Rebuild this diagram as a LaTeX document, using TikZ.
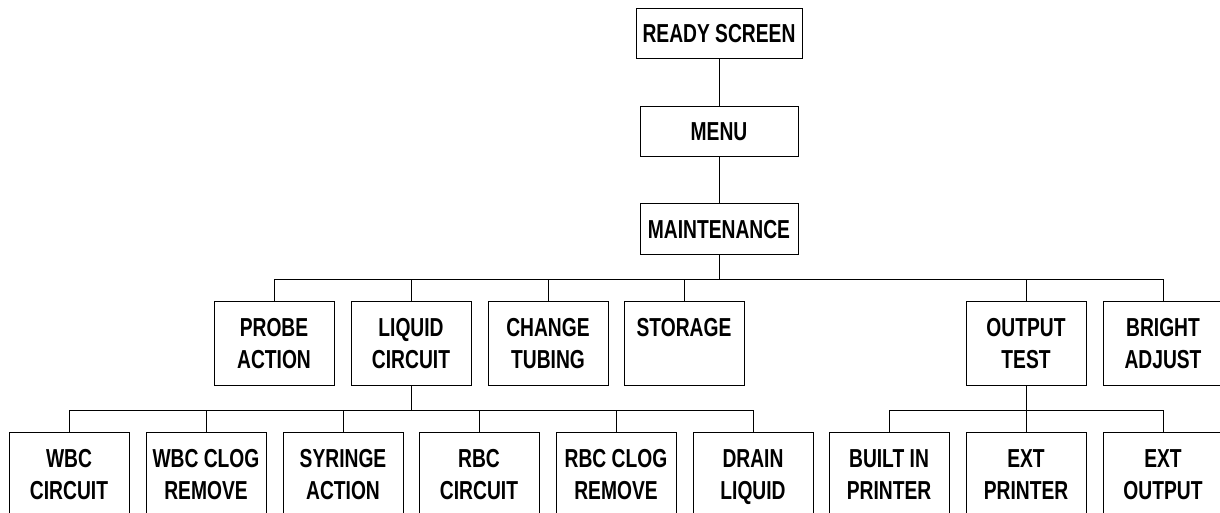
\documentclass[tikz,border=0pt]{standalone}
\usepackage{fontspec}
\newfontfamily\diagfont{Liberation Sans}[FakeStretch=0.74]
\begin{document}
\begin{tikzpicture}[x=1pt,y=-1pt,
  box/.style={draw=black,line width=1pt,fill=white,inner sep=0pt,align=center,
    minimum width=120pt,minimum height=84pt,text height=51pt,text depth=0pt,
    font=\diagfont\bfseries\fontsize{26}{32}\selectfont},
  topbox/.style={box,minimum width=158pt,minimum height=50pt,text height=19pt},
  conn/.style={draw=black,line width=1pt}]
\useasboundingbox (0,0) rectangle (1220,512);
% top chain
\node[topbox,minimum width=166pt] (ready) at (719,33) {READY SCREEN};
\node[topbox] (menu) at (719,131) {MENU};
\node[topbox,minimum height=51pt] (maint) at (719,228.5) {MAINTENANCE};
% level 2
\node[box] (probe) at (274,343) {PROBE\\ACTION};
\node[box] (liquid) at (411,343) {LIQUID\\CIRCUIT};
\node[box] (change) at (548,343) {CHANGE\\TUBING};
\node[box] (storage) at (684,343) {STORAGE\\\mbox{}};
\node[box] (output) at (1026,343) {OUTPUT\\TEST};
\node[box] (bright) at (1163,343) {BRIGHT\\ADJUST};
% level 3
\node[box] (wbc) at (69,474) {WBC\\CIRCUIT};
\node[box] (wbcclog) at (206,474) {WBC CLOG\\REMOVE};
\node[box] (syringe) at (343,474) {SYRINGE\\ACTION};
\node[box] (rbc) at (479,474) {RBC\\CIRCUIT};
\node[box] (rbcclog) at (616,474) {RBC CLOG\\REMOVE};
\node[box] (drain) at (753,474) {DRAIN\\LIQUID};
\node[box] (builtin) at (889,474) {BUILT IN\\PRINTER};
\node[box] (extprinter) at (1026,474) {EXT\\PRINTER};
\node[box] (extoutput) at (1163,474) {EXT\\OUTPUT};
% connectors
\draw[conn] (ready) -- (menu);
\draw[conn] (menu) -- (maint);
\foreach \c in {probe,liquid,change,storage,output,bright}
  \draw[conn] (maint.south) -- ++(0,25) -| (\c.north);
\foreach \c in {wbc,wbcclog,syringe,rbc,rbcclog,drain}
  \draw[conn] (liquid.south) -- ++(0,25) -| (\c.north);
\foreach \c in {builtin,extprinter,extoutput}
  \draw[conn] (output.south) -- ++(0,25) -| (\c.north);
\end{tikzpicture}
\end{document}
